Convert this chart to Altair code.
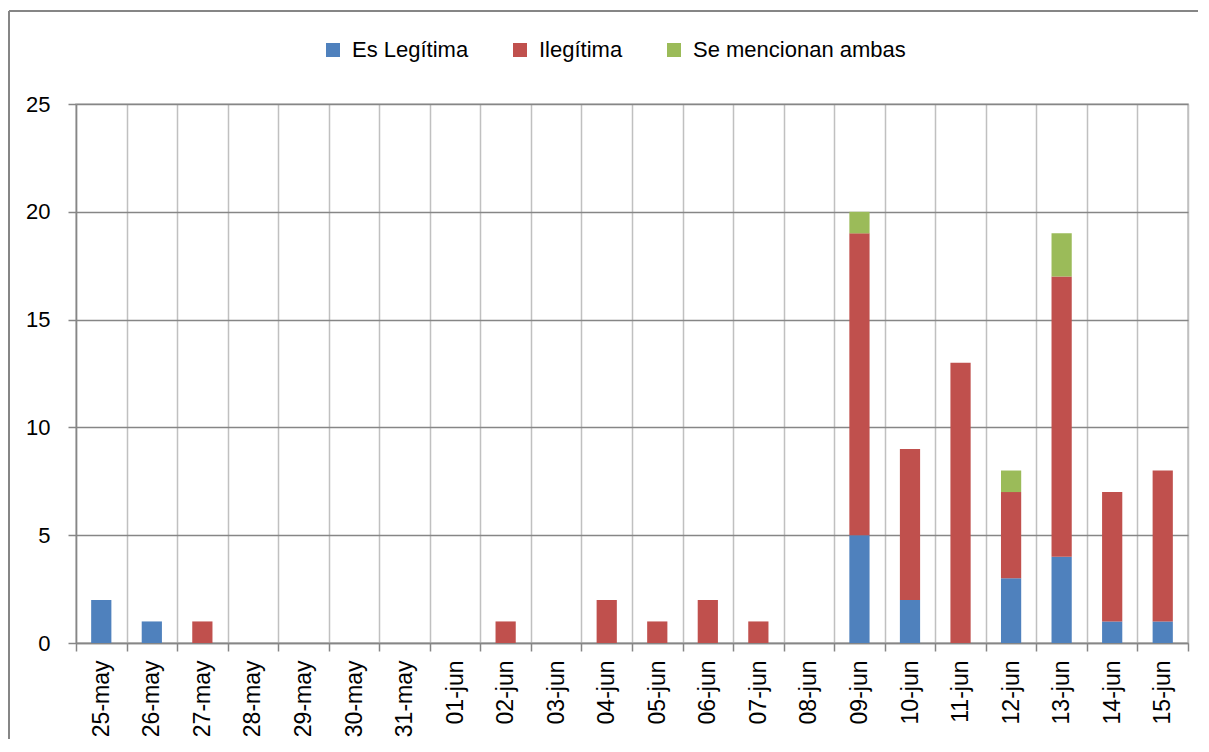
import altair as alt
import pandas as pd

dates = ["25-may", "26-may", "27-may", "28-may", "29-may", "30-may", "31-may",
         "01-jun", "02-jun", "03-jun", "04-jun", "05-jun", "06-jun", "07-jun",
         "08-jun", "09-jun", "10-jun", "11-jun", "12-jun", "13-jun", "14-jun", "15-jun"]
series = ["Es Legítima", "Ilegítima", "Se mencionan ambas"]
colors = ["#4F81BD", "#C0504D", "#9BBB59"]

legitima = [2, 1, 0, 0, 0, 0, 0, 0, 0, 0, 0, 0, 0, 0, 0, 5, 2, 0, 3, 4, 1, 1]
ilegitima = [0, 0, 1, 0, 0, 0, 0, 0, 1, 0, 2, 1, 2, 1, 0, 14, 7, 13, 4, 13, 6, 7]
ambas = [0, 0, 0, 0, 0, 0, 0, 0, 0, 0, 0, 0, 0, 0, 0, 1, 0, 0, 1, 2, 0, 0]
y_ticks = [0, 5, 10, 15, 20, 25]

rows = []
for i, d in enumerate(dates):
    for k, (s, vals) in enumerate(zip(series, [legitima, ilegitima, ambas])):
        rows.append({"fecha": d, "serie": s, "valor": vals[i], "orden": k})
df = pd.DataFrame(rows)

FONT = "Liberation Sans"
GRID_DARK = "#868686"
GRID_LIGHT = "#c0c0c0"

bars = alt.Chart(df).mark_bar(width=alt.RelativeBandSize(0.4)).encode(
    x=alt.X("fecha:N", sort=dates,
            scale=alt.Scale(paddingInner=0, paddingOuter=0),
            axis=alt.Axis(title=None, tickBand="extent", grid=True,
                          gridColor=GRID_LIGHT, gridWidth=1.5,
                          tickColor=GRID_DARK, tickSize=8, tickWidth=1.5,
                          domainColor=GRID_DARK, domainWidth=1.5,
                          labelAngle=270, labelFontSize=23, labelFont=FONT,
                          labelColor="black", labelPadding=9)),
    y=alt.Y("valor:Q", stack="zero",
            scale=alt.Scale(domain=[0, 25], nice=False),
            axis=alt.Axis(title=None, values=y_ticks, grid=True,
                          gridColor=GRID_DARK, gridWidth=1.5,
                          tickColor=GRID_DARK, tickSize=8, tickWidth=1.5,
                          domainColor=GRID_DARK, domainWidth=1.5,
                          labelFontSize=22, labelFont=FONT,
                          labelColor="black", labelPadding=18)),
    color=alt.Color("serie:N", sort=series,
                    scale=alt.Scale(domain=series, range=colors),
                    legend=alt.Legend(title=None, orient="none", legendX=246, legendY=-65,
                                      direction="horizontal", symbolType="square",
                                      symbolSize=196, symbolStrokeWidth=0,
                                      labelFontSize=22, labelFont=FONT, labelLimit=400,
                                      labelColor="black", columnPadding=40,
                                      labelOffset=8, padding=0)),
    order=alt.Order("orden:Q"),
)

frame_src = alt.Data(values=[{"k": 1}])
frame_top = alt.Chart(frame_src).mark_rule(stroke=GRID_DARK, strokeWidth=2).encode(
    x=alt.value(-67), x2=alt.value(1122), y=alt.value(-93)
)
frame_left = alt.Chart(frame_src).mark_rule(stroke=GRID_DARK, strokeWidth=2).encode(
    x=alt.value(-67), y=alt.value(-93), y2=alt.value(635)
)

chart = alt.layer(bars, frame_top, frame_left).properties(
    width=1112, height=539,
    autosize=alt.AutoSizeParams(type="none"),
    padding={"left": 68, "top": 96, "right": 10, "bottom": 96},
).configure_view(stroke=GRID_LIGHT, strokeWidth=1.5)

chart.save("out.html", embed_options={"renderer": "svg", "actions": False})
